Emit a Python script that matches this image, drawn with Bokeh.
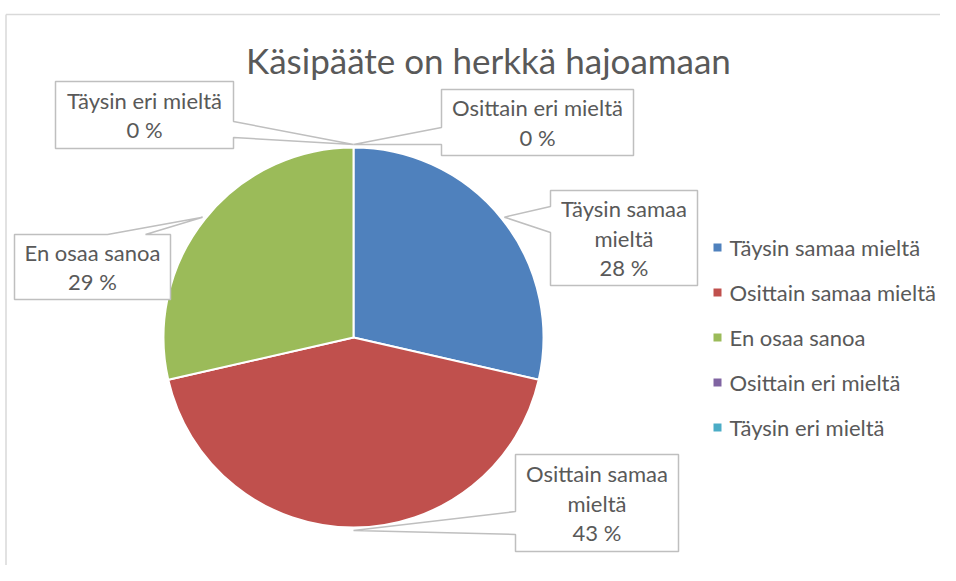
import math
from bokeh.plotting import figure
from bokeh.models import Range1d
from bokeh.core.properties import value
from bokeh.embed import file_html
from bokeh.resources import INLINE

# ---- data ----
title_text = "Käsipääte on herkkä hajoamaan"
categories = ["Täysin samaa mieltä", "Osittain samaa mieltä", "En osaa sanoa",
              "Osittain eri mieltä", "Täysin eri mieltä"]
counts = [2, 3, 2, 0, 0]            # slice sizes
label_percents = [28, 43, 29, 0, 0]  # percentages as printed on the labels
colors = ["#4F81BD", "#C0504D", "#9BBB59", "#8064A2", "#4BACC6"]

# ---- layout (screen pixels) ----
W, H = 940, 565
PAGE_H = 581
FONT = "Lato"
TXT = "#595959"
GRID = "#BFBFBF"
cx, cy, R = 353, 337, 190
# label callouts: box (x0, x1, y0, y1), side of pointer, two attach coords, wrapped lines
callouts = [
    dict(box=(550, 697, 190, 285), side="left", att=(206, 232), lines=["Täysin samaa", "mieltä"]),
    dict(box=(515, 678, 454, 551), side="left", att=(511, 534), lines=["Osittain samaa", "mieltä"]),
    dict(box=(14, 170, 234, 299), side="top", att=(107, 145), lines=["En osaa sanoa"]),
    dict(box=(441, 633, 89, 155), side="left", att=(127, 144), lines=["Osittain eri mieltä"]),
    dict(box=(55, 233, 81, 148), side="right", att=(121, 137), lines=["Täysin eri mieltä"]),
]
legend_x, legend_y0, legend_dy = 717, 247, 45


def Y(sy):
    return PAGE_H - sy


p = figure(width=W, height=H, output_backend="svg", toolbar_location=None,
           x_range=Range1d(0, W), y_range=Range1d(PAGE_H - H, PAGE_H),
           min_border=0, outline_line_color=None)
p.axis.visible = False
p.grid.visible = False
p.background_fill_color = "white"

# chart frame
p.line([5.5, W], [Y(14), Y(14)], line_color="#D9D9D9", line_width=1.5)
p.line([5.5, 5.5], [Y(14), Y(PAGE_H)], line_color="#D9D9D9", line_width=1.5)

# title
p.text([488], [Y(59)], text=[title_text], text_font=value(FONT), text_font_size="35px",
       text_color=TXT, text_align="center", text_baseline="middle")

# pie
total = sum(counts)
cum = 0.0
tips = []
for cat, v, c in zip(categories, counts, colors):
    f0 = cum / total
    f1 = (cum + v) / total
    cum += v
    mid = (f0 + f1) / 2 * 2 * math.pi
    tips.append((cx + (R + 3) * math.sin(mid), cy - (R + 3) * math.cos(mid)))
    if v <= 0:
        continue
    p.wedge(x=[cx], y=[Y(cy)], radius=R, start_angle=math.pi / 2 - f0 * 2 * math.pi,
            end_angle=math.pi / 2 - f1 * 2 * math.pi, direction="clock",
            fill_color=c, line_color="white", line_width=2)

# callouts
for co, pct, tip in zip(callouts, label_percents, tips):
    x0, x1, y0, y1 = co["box"]
    a, b = co["att"]
    tx, ty = tip
    if co["side"] == "left":
        pts = [(x0, y0), (x1, y0), (x1, y1), (x0, y1), (x0, b), (tx, ty), (x0, a)]
    elif co["side"] == "right":
        pts = [(x0, y0), (x1, y0), (x1, a), (tx, ty), (x1, b), (x1, y1), (x0, y1)]
    else:  # top
        pts = [(x0, y0), (a, y0), (tx, ty), (b, y0), (x1, y0), (x1, y1), (x0, y1)]
    p.patch([q[0] for q in pts], [Y(q[1]) for q in pts], fill_color="white",
            line_color=GRID, line_width=1.5)
    lines = co["lines"] + [f"{pct} %"]
    n = len(lines)
    mid_y = (y0 + y1) / 2
    step = 29.5
    xs = [(x0 + x1) / 2] * n
    ys = [Y(mid_y + (i - (n - 1) / 2) * step) for i in range(n)]
    p.text(xs, ys, text=lines, text_font=value(FONT), text_font_size="22px",
           text_color=TXT, text_align="center", text_baseline="middle")

# legend
ly = [Y(legend_y0 + i * legend_dy) for i in range(len(categories))]
p.scatter([legend_x] * len(categories), ly, marker="square", size=8,
          fill_color=colors, line_color=None)
p.text([legend_x + 12] * len(categories), ly, text=categories, text_font=value(FONT),
       text_font_size="22px", text_color=TXT, text_align="left", text_baseline="middle")

open("out.html", "w").write(file_html(p, INLINE))
